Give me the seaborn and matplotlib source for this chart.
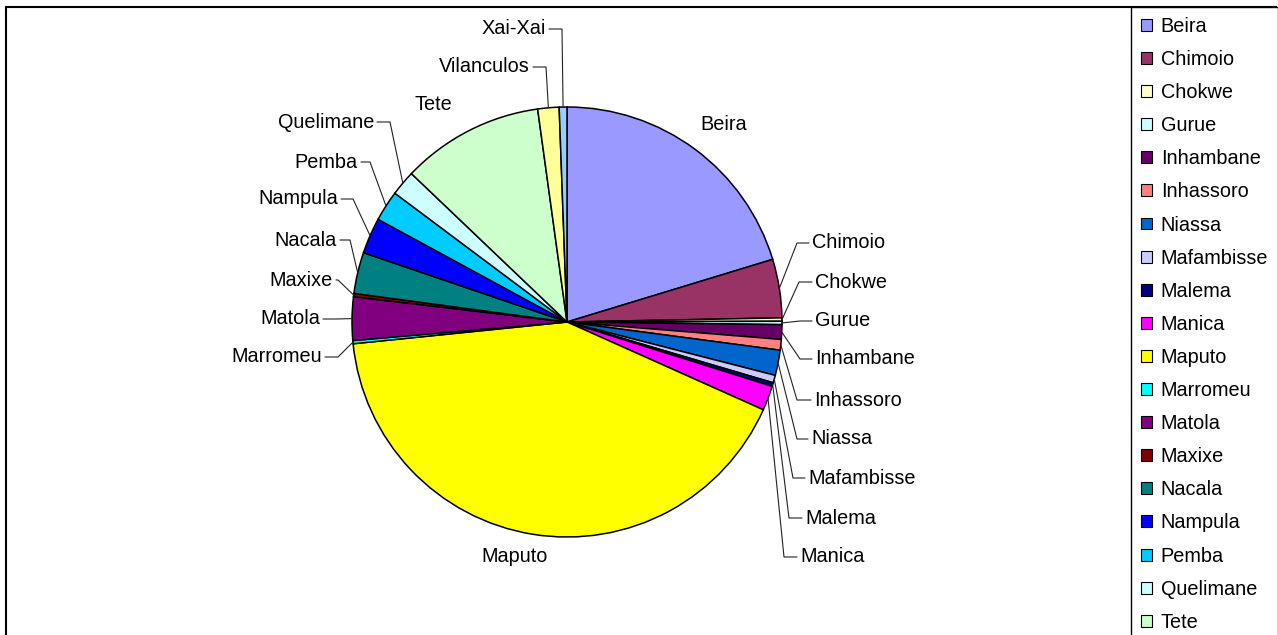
import numpy as np
import seaborn as sns
from matplotlib import pyplot as plt
from matplotlib.patches import Patch, Rectangle

# share of each city (%)
cities = ['Beira', 'Chimoio', 'Chokwe', 'Gurue', 'Inhambane', 'Inhassoro', 'Niassa',
          'Mafambisse', 'Malema', 'Manica', 'Maputo', 'Marromeu', 'Matola', 'Maxixe',
          'Nacala', 'Nampula', 'Pemba', 'Quelimane', 'Tete', 'Vilanculos', 'Xai-Xai']
shares = [20.3, 4.4, 0.25, 0.25, 1.1, 0.8, 1.9,
          0.57, 0.28, 1.85, 41.7, 0.24, 3.25, 0.25,
          3.1, 2.7, 2.3, 1.9, 10.7, 1.6, 0.58]
colors = ['#9999FF', '#993366', '#FFFFCC', '#CCFFFF', '#660066', '#FF8080', '#0066CC',
          '#CCCCFF', '#000080', '#FF00FF', '#FFFF00', '#00FFFF', '#800080', '#800000',
          '#008080', '#0000FF', '#00CCFF', '#CCFFFF', '#CCFFCC', '#FFFF99', '#99CCFF']

# label placement in pixels: (text x, text y, elbow x); elbow None = no leader line
label_pos = {
    'Beira': (724, 125, None), 'Tete': (433, 104, None), 'Maputo': (515, 557, None),
    'Chimoio': (812, 243, 797), 'Chokwe': (815, 282, 799), 'Gurue': (815, 321, 800),
    'Inhambane': (815, 359, 800), 'Inhassoro': (814, 400, 797), 'Niassa': (811, 439, 797),
    'Mafambisse': (808, 478, 793), 'Malema': (805, 518, 789), 'Manica': (800, 557, 784),
    'Marromeu': (322, 357, 338), 'Matola': (320, 319, 335), 'Maxixe': (333, 280, 338),
    'Nacala': (337, 240, 350), 'Nampula': (338, 199, 353), 'Pemba': (358, 162, 370),
    'Quelimane': (374, 122, 390), 'Vilanculos': (530, 67, 546), 'Xai-Xai': (546, 29, 562),
}

W, H = 1278, 635
sns.set_theme(style='white')
plt.rcParams['font.family'] = ['Liberation Sans', 'DejaVu Sans']
plt.rcParams['text.color'] = 'black'
fs = 14.3

fig = plt.figure(figsize=(W / 100, H / 100), dpi=100)
fig.patch.set_facecolor('white')
ax = fig.add_axes([0, 0, 1, 1])
cx, cy, r = 567, H - 322, 215
pal = sns.color_palette(colors)
wedges, _ = ax.pie(shares, colors=pal, startangle=90, counterclock=False,
                   center=(cx, cy), radius=r, frame=True,
                   wedgeprops=dict(edgecolor='black', linewidth=1.1))
ax.set_xlim(0, W)
ax.set_ylim(0, H)
ax.set_aspect('auto')
ax.axis('off')

for w, name in zip(wedges, cities):
    tx, ty, ex = label_pos[name]
    ty = H - ty
    if ex is None:
        ax.text(tx, ty, name, ha='center', va='center', fontsize=fs, color='black')
        continue
    mid = np.deg2rad((w.theta1 + w.theta2) / 2)
    px, py = cx + r * np.cos(mid), cy + r * np.sin(mid)
    if tx > cx:
        end = tx - 3
        ha = 'left'
    else:
        end = tx + 3
        ha = 'right'
    ax.plot([px, ex, end], [py, ty, ty], color='#222222', lw=0.8, clip_on=False)
    ax.text(tx, ty, name, ha=ha, va='center', fontsize=fs, color='black')

# legend runs past the bottom edge like the original; only entries up to Tete fit
handles = [Patch(facecolor=c, edgecolor='black', linewidth=0.8) for c in colors]
leg = fig.legend(handles, cities, loc='upper left', bbox_to_anchor=(1131 / W, 1 - 7 / H),
                 fontsize=fs, frameon=True, fancybox=False, framealpha=1,
                 edgecolor='black', borderaxespad=0, borderpad=0.5, labelcolor='black',
                 handlelength=0.55, handleheight=0.55, handletextpad=0.45,
                 labelspacing=0.71)
leg.get_frame().set_linewidth(1.0)

fig.patches.append(Rectangle((6 / W, -0.05), 1270 / W, 1.05 - 7 / H, transform=fig.transFigure,
                             fill=False, edgecolor='black', linewidth=1.5, zorder=5))

plt.savefig('out.png', dpi=100)
